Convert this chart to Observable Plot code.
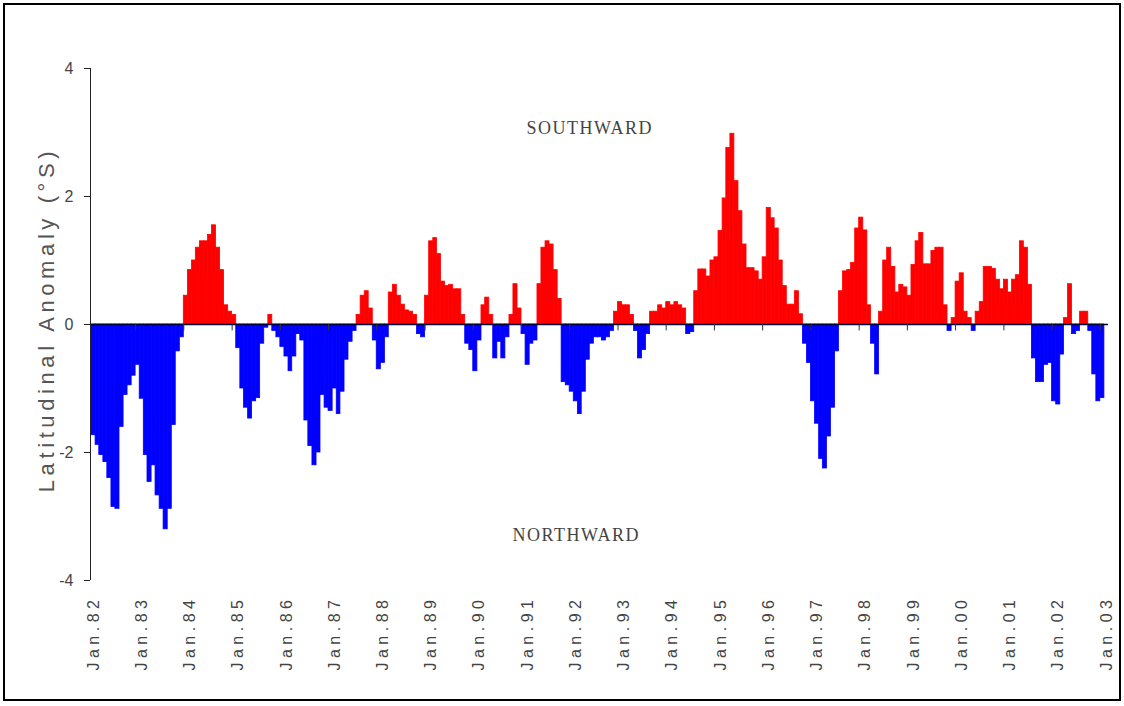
<!DOCTYPE html>
<html><head><meta charset="utf-8">
<script src="https://cdn.jsdelivr.net/npm/d3@7"></script>
<script src="https://cdn.jsdelivr.net/npm/@observablehq/plot@0.6"></script>
<style>
body{margin:0;background:#fff;}
#frame{position:absolute;left:3px;top:3px;width:1114px;height:694px;border:2px solid #000;pointer-events:none;}
#chart{position:absolute;left:0;top:0;}
#chart g[aria-label="x-axis tick label"] text{letter-spacing:4.5px;}
</style></head><body>
<div id="chart"></div><div id="frame"></div>
<script>
// Monthly latitudinal anomaly (°S), Jan..Dec of each year
const y1982 = [-1.73, -1.88, -2.04, -2.15, -2.4, -2.85, -2.88, -1.6, -1.1, -0.95, -0.8, -0.63];
const y1983 = [-1.16, -2.04, -2.46, -2.2, -2.67, -2.88, -3.2, -2.88, -1.57, -0.42, -0.2, 0.45];
const y1984 = [0.85, 1.0, 1.2, 1.3, 1.3, 1.4, 1.55, 1.2, 0.85, 0.3, 0.2, 0.15];
const y1985 = [-0.37, -1.0, -1.3, -1.47, -1.2, -1.15, -0.3, -0.05, 0.15, -0.1, -0.2, -0.35];
const y1986 = [-0.5, -0.73, -0.5, -0.15, -0.25, -1.5, -1.9, -2.2, -2.0, -1.1, -1.3, -1.35];
const y1987 = [-1.0, -1.4, -1.05, -0.55, -0.27, -0.1, 0.15, 0.45, 0.52, 0.25, -0.25, -0.7];
const y1988 = [-0.6, -0.2, 0.5, 0.62, 0.45, 0.31, 0.22, 0.2, 0.15, -0.15, -0.2, 0.45];
const y1989 = [1.3, 1.35, 1.1, 0.67, 0.6, 0.62, 0.55, 0.55, 0.15, -0.3, -0.4, -0.73];
const y1990 = [-0.25, 0.3, 0.42, 0.15, -0.53, -0.27, -0.53, -0.2, 0.15, 0.63, 0.25, -0.15];
const y1991 = [-0.63, -0.3, -0.25, 0.63, 1.2, 1.3, 1.25, 0.85, 0.4, -0.9, -0.95, -1.05];
const y1992 = [-1.2, -1.4, -1.05, -0.55, -0.3, -0.2, -0.2, -0.25, -0.2, -0.1, 0.2, 0.35];
const y1993 = [0.3, 0.3, 0.15, -0.1, -0.53, -0.4, -0.15, 0.2, 0.2, 0.3, 0.25, 0.35];
const y1994 = [0.3, 0.35, 0.3, 0.25, -0.15, -0.12, 0.52, 0.86, 0.86, 0.75, 1.0, 1.05];
const y1995 = [1.46, 1.97, 2.76, 2.98, 2.24, 1.77, 1.25, 0.88, 0.88, 0.83, 0.7, 1.05];
const y1996 = [1.82, 1.66, 1.5, 1.0, 0.6, 0.31, 0.31, 0.52, 0.16, -0.3, -0.6, -1.2];
const y1997 = [-1.55, -2.1, -2.25, -1.75, -1.3, -0.42, 0.52, 0.83, 0.85, 0.96, 1.5, 1.67];
const y1998 = [1.47, 0.3, -0.3, -0.78, 0.2, 1.0, 1.2, 0.9, 0.5, 0.62, 0.58, 0.45];
const y1999 = [0.93, 1.3, 1.43, 0.94, 0.94, 1.15, 1.2, 1.2, 0.3, -0.1, 0.1, 0.67];
const y2000 = [0.8, 0.2, 0.1, -0.1, 0.2, 0.35, 0.9, 0.9, 0.87, 0.7, 0.55, 0.7];
const y2001 = [0.5, 0.7, 0.77, 1.3, 1.2, 0.62, -0.53, -0.9, -0.9, -0.63, -0.6, -1.2];
const y2002 = [-1.25, -0.47, 0.1, 0.63, -0.15, -0.1, 0.2, 0.2, -0.1, -0.78, -1.2, -1.15];

const years = [y1982, y1983, y1984, y1985, y1986, y1987, y1988, y1989, y1990, y1991, y1992,
               y1993, y1994, y1995, y1996, y1997, y1998, y1999, y2000, y2001, y2002];
const firstYear = 1982;
const yearLabels = ["Jan.82","Jan.83","Jan.84","Jan.85","Jan.86","Jan.87","Jan.88","Jan.89","Jan.90",
  "Jan.91","Jan.92","Jan.93","Jan.94","Jan.95","Jan.96","Jan.97","Jan.98","Jan.99","Jan.00",
  "Jan.01","Jan.02","Jan.03"];
const yTicks = [-4, -2, 0, 2, 4];
const yLabel = "Latitudinal Anomaly (°S)";
const topNote = "SOUTHWARD";
const bottomNote = "NORTHWARD";

const data = [];
years.forEach((arr, i) => arr.forEach((v, m) => {
  data.push({start: new Date(Date.UTC(firstYear + i, m, 1)), end: new Date(Date.UTC(firstYear + i, m + 1, 1)), value: v});
}));
const labelDates = yearLabels.map((_, i) => new Date(Date.UTC(firstYear + i, 0, 16)));
const minorTicks = years.map((_, i) => new Date(Date.UTC(firstYear + i, 11, 1)));
const x0 = new Date(Date.UTC(firstYear, 0, 1));
const serif = "'Liberation Serif', 'Times New Roman', serif";

const chart = Plot.plot({
  width: 1124, height: 706,
  marginLeft: 91, marginRight: 16, marginTop: 68, marginBottom: 126,
  x: {type: "utc", domain: [x0, new Date(Date.UTC(2003, 1, 1))]},
  y: {domain: [-4, 4]},
  style: {fontFamily: "'Liberation Sans', Arial, sans-serif", background: "transparent", overflow: "visible"},
  marks: [
    Plot.rect(data.filter(d => d.value >= 0), {x1: "start", x2: "end", y1: 0, y2: "value", fill: "#ff0000", stroke: "#ff0000", strokeWidth: 0.8}),
    Plot.rect(data.filter(d => d.value < 0), {x1: "start", x2: "end", y1: 0, y2: "value", fill: "#0000ff", stroke: "#0000ff", strokeWidth: 0.8}),
    Plot.ruleY([0], {stroke: "#00003a", strokeWidth: 1.5}),
    Plot.ruleX(minorTicks, {x: d => d, y1: 0, y2: -0.1, stroke: "#333", strokeWidth: 1}),
    Plot.ruleX([x0], {y1: -4, y2: 4, stroke: "#222", dx: -1}),
    Plot.axisY({ticks: yTicks, tickFormat: d => String(d), tickSize: 6, tickPadding: 11, fontSize: 16, fill: "#444", stroke: "#222", label: null, dx: -1}),
    Plot.axisX({ticks: labelDates, tickFormat: d => yearLabels[d.getUTCFullYear() - firstYear], tickRotate: -90, tickSize: 0, tickPadding: 15, fontSize: 16, fill: "#444", label: null}),
    Plot.text([yLabel], {frameAnchor: "left", rotate: -90, dx: -45, dy: -5, textAnchor: "middle", fontSize: 22, fill: "#555", text: d => d}),
    Plot.text([topNote], {x: new Date(Date.UTC(1992, 4, 1)), y: 3.07, text: d => d, fontFamily: serif, fontSize: 18, fill: "#444"}),
    Plot.text([bottomNote], {x: new Date(Date.UTC(1992, 0, 20)), y: -3.3, text: d => d, fontFamily: serif, fontSize: 18, fill: "#444"})
  ]
});
d3.select(chart).selectAll("text").each(function () {
  const t = this.textContent;
  if (t === yLabel) this.style.letterSpacing = "4.6px";
  else if (t === topNote || t === bottomNote) this.style.letterSpacing = "1.5px";
});
document.getElementById("chart").appendChild(chart);
</script>
</body></html>
